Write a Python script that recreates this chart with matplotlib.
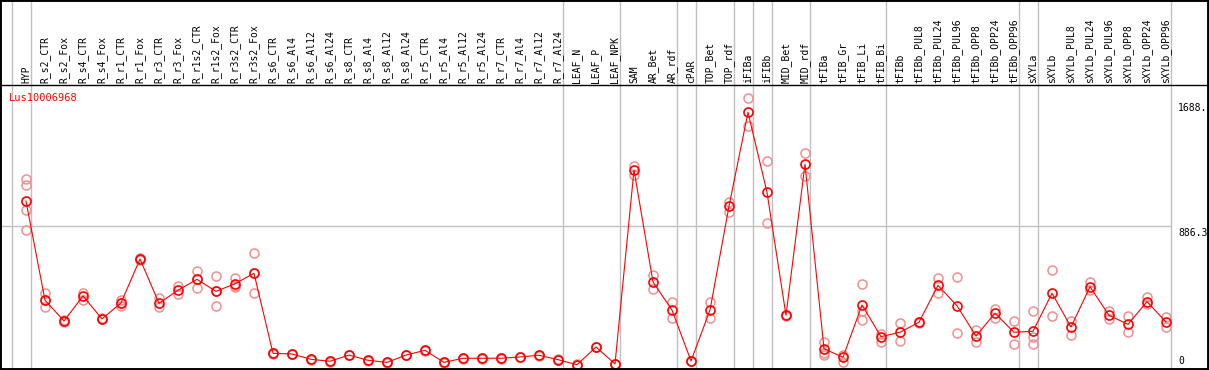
import matplotlib
matplotlib.use("Agg")
import matplotlib.pyplot as plt
import numpy as np
from matplotlib.patches import Rectangle

# samples (column headers)
samples = ["HYP", "R_s2_CTR", "R_s2_Fox", "R_s4_CTR", "R_s4_Fox", "R_r1_CTR", "R_r1_Fox",
           "R_r3_CTR", "R_r3_Fox", "R_r1s2_CTR", "R_r1s2_Fox", "R_r3s2_CTR", "R_r3s2_Fox",
           "R_s6_CTR", "R_s6_Al4", "R_s6_Al12", "R_s6_Al24", "R_s8_CTR", "R_s8_Al4",
           "R_s8_Al12", "R_s8_Al24", "R_r5_CTR", "R_r5_Al4", "R_r5_Al12", "R_r5_Al24",
           "R_r7_CTR", "R_r7_Al4", "R_r7_Al12", "R_r7_Al24", "LEAF_N", "LEAF_P", "LEAF_NPK",
           "SAM", "AR_Bet", "AR_rdf", "cPAR", "TOP_Bet", "TOP_rdf", "iFIBa", "iFIBb",
           "MID_Bet", "MID_rdf", "tFIBa", "tFIB_Gr", "tFIB_Li", "tFIB_Bi", "tFIBb",
           "tFIBb_PUL8", "tFIBb_PUL24", "tFIBb_PUL96", "tFIBb_OPP8", "tFIBb_OPP24", "tFIBb_OPP96",
           "sXYLa", "sXYLb", "sXYLb_PUL8", "sXYLb_PUL24", "sXYLb_PUL96", "sXYLb_OPP8",
           "sXYLb_OPP24", "sXYLb_OPP96"]

# mean expression per sample
means = [1041, 415, 284, 442, 297, 398, 675, 396, 478, 547, 471, 519, 585,
         80, 76, 42, 30, 69, 36, 23, 69, 99, 23, 49, 49, 49, 57, 68, 40,
         8, 120, 13,
         1237, 530, 353, 32, 353, 1008, 1601, 1096, 320, 1273,
         109, 55, 385, 185, 213, 276, 509, 380, 189, 333, 213,
         219, 459, 246, 500, 320, 263, 406, 278]

# individual replicates per sample
replicates = [[1178, 1140, 982, 856], [459, 415, 370], [290, 280], [463, 416], [300, 294],
              [416, 398, 379], [680, 670], [427, 374], [503, 454], [599, 549, 492],
              [568, 473, 379], [555, 507, 497], [711, 587, 459],
              [82, 78], [78, 74], [44, 40], [32, 28], [71, 67], [38, 34], [25, 21], [71, 67],
              [101, 97], [25, 21], [51, 47], [51, 47], [51, 47], [59, 55], [70, 66], [42, 38],
              [10, 6], [122, 118], [15, 11],
              [1264, 1205], [574, 484], [404, 305], [34, 30], [404, 305], [1037, 974],
              [1689, 1513], [1294, 900], [322, 318], [1342, 1199],
              [151, 80, 69], [71, 27], [516, 347, 290], [200, 153], [269, 156], [278, 274],
              [553, 463], [560, 206], [225, 153], [362, 303], [282, 137],
              [345, 185, 137], [604, 314], [286, 198], [528, 480], [349, 298], [314, 213],
              [433, 389], [307, 244]]

# group separators drawn after these sample indices
separators = [-1, 0, 28, 31, 34, 35, 37, 38, 39, 41, 45, 52, 53, 60]
gene_id = "Lus10006968"
ref_labels = [(1688, "1688."), (886.3, "886.3"), (0, "0")]

W, H = 1209, 370
fig = plt.figure(figsize=(W / 100, H / 100), dpi=100)
ax = fig.add_axes([0, 0, 1, 285 / H])

x = np.arange(len(samples))
rx = np.concatenate([[i] * len(r) for i, r in enumerate(replicates)])
ry = np.concatenate(replicates)

grid = "#c0c0c0"
for s in separators:
    ax.axvline(s + 0.25, ymin=0, ymax=370 / 285, color=grid, lw=1.0, clip_on=False, zorder=1)
ax.hlines(886.3, -2, separators[-1] + 0.25, color=grid, lw=1.0, zorder=1)

ax.plot(rx, ry, "o", ms=6.5, mfc="none", mec="#f09090", mew=1.1, zorder=2)
ax.plot(x, means, "-", color="#ff0000", lw=0.8, zorder=3)
ax.plot(x, means, "o", ms=6.5, mfc="none", mec="#ff0000", mew=1.2, zorder=4)

ax.set_xlim(-26 / 19, (W - 26) / 19)
ax.set_ylim((366 - 370) / 0.15847, (366 - 85) / 0.15847)
ax.set_xticks([])
ax.set_yticks([])
for sp in ["left", "right", "bottom"]:
    ax.spines[sp].set_visible(False)
ax.spines["top"].set_linewidth(1.0)

mono = "DejaVu Sans Mono"
for i, lab in enumerate(samples):
    ax.annotate(lab, xy=(i, 1), xycoords=("data", "axes fraction"), xytext=(0, 2),
                textcoords="offset pixels", rotation=90, ha="center", va="bottom",
                fontsize=7, family=mono, annotation_clip=False)

ax.annotate(gene_id, xy=(-26 / 19, 1), xycoords=("data", "axes fraction"), xytext=(9, -8),
            textcoords="offset pixels", ha="left", va="top", fontsize=7.5,
            family=mono, color="#ff0000")

for val, lab in ref_labels:
    if val == 0:
        off, va = (0, 0), "bottom"
    elif val == 886.3:
        off, va = (0, -2), "top"
    else:
        off, va = (0, -4), "top"
    ax.annotate(lab, xy=((1178 - 26) / 19, val), xytext=off, textcoords="offset pixels",
                ha="left", va=va, fontsize=7, family=mono)

fig.patches.append(Rectangle((0, 0), 1, 1, transform=fig.transFigure, fill=False,
                             edgecolor="black", lw=2.8))

fig.savefig("out.png", dpi=100)
